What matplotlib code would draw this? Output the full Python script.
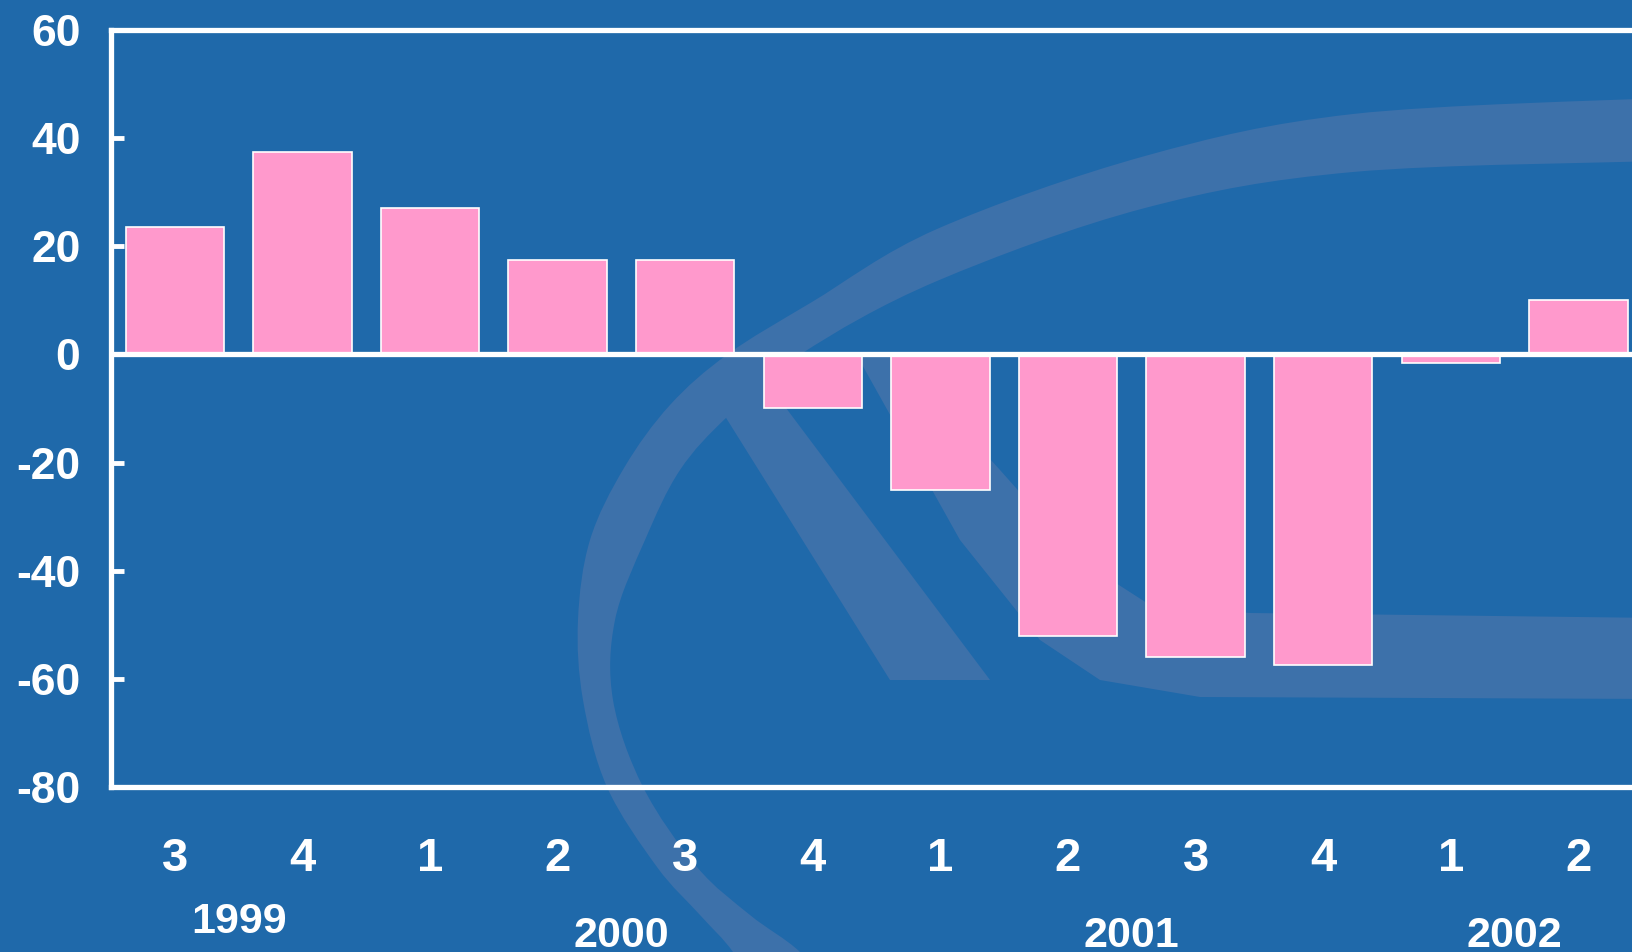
import numpy as np
import matplotlib.pyplot as plt
from matplotlib.patches import Polygon, PathPatch
from matplotlib.path import Path

plt.rcParams['font.family'] = ['Liberation Sans', 'DejaVu Sans']
plt.rcParams['font.weight'] = 'bold'
plt.rcParams['axes.unicode_minus'] = False

# quarterly values, 1999Q3 .. 2002Q2
quarters = ['3', '4', '1', '2', '3', '4', '1', '2', '3', '4', '1', '2']
values = [23.5, 37.5, 27, 17.5, 17.5, -10, -25, -52, -56, -57.5, -1.5, 10]
years = ['1999', '2000', '2001', '2002']
year_pos = [0.5, 3.5, 7.5, 10.5]
year_y = [-0.178, -0.197, -0.197, -0.197]

bg = '#1f69aa'
mark = '#3d71aa'
pink = '#ff99cc'

W, H = 1632, 952
fig = plt.figure(figsize=(W / 100, H / 100), dpi=100, facecolor=bg)

def frac(p):
    # pixel coords (origin top-left) -> figure fraction
    return (p[0] / W, 1 - p[1] / H)

def smooth(pts):
    # bezier segments through the given outline points (watermark only)
    p = [np.array(frac(q)) for q in pts]
    verts, codes = [p[0]], [Path.MOVETO]
    for i in range(len(p) - 1):
        a = p[i - 1] if i > 0 else p[i]
        d = p[i + 2] if i + 2 < len(p) else p[i + 1]
        verts += [p[i] + (p[i + 1] - a) / 6, p[i + 1] - (d - p[i]) / 6, p[i + 1]]
        codes += [Path.CURVE4] * 3
    return verts, codes

# faint logo watermark behind the chart
outer = [(760, 1000), (733, 952), (700, 915), (657, 867), (607, 787), (583, 700),
         (578, 620), (590, 540), (624, 468), (670, 405), (728, 354), (812, 302),
         (937, 229), (1145, 156), (1353, 114), (1660, 98)]
inner = [(1660, 161), (1353, 172), (1145, 208), (937, 281), (801, 354), (728, 416),
         (680, 470), (645, 540), (615, 620), (613, 700), (643, 787), (697, 867),
         (750, 915), (800, 952), (840, 1000)]
v1, c1 = smooth(outer)
v2, c2 = smooth(inner)
c2[0] = Path.LINETO
ring = Path(v1 + v2 + [v1[0]], c1 + c2 + [Path.CLOSEPOLY])
fig.patches.append(PathPatch(ring, transform=fig.transFigure, facecolor=mark,
                             edgecolor='none', zorder=-5))

stroke = [(718, 405), (750, 360), (990, 680), (890, 680)]
swoosh = [(893, 352), (1000, 470), (1080, 560), (1150, 605), (1250, 613),
          (1660, 618), (1660, 699), (1200, 697), (1100, 680), (1040, 640),
          (960, 540), (855, 352)]
for shape in (stroke, swoosh):
    fig.patches.append(Polygon([frac(q) for q in shape], closed=True,
                               transform=fig.transFigure, facecolor=mark,
                               edgecolor='none', zorder=-5))

ax = fig.add_axes([111 / W, 1 - 787 / H, 12 * 127.6 / W, 757 / H])
ax.set_facecolor('none')

x = np.arange(len(values))
ax.bar(x, values, width=0.77, color=pink, edgecolor='white', linewidth=1.2, zorder=2)
ax.axhline(0, color='white', lw=3.8, zorder=3)

ax.set_xlim(-0.5, 11.5)
ax.set_ylim(-80, 60)
ax.set_yticks(np.arange(-80, 61, 20))
ax.tick_params(axis='y', direction='in', length=9, width=3.5, color='white',
               labelcolor='white', labelsize=32, pad=22)
ax.set_xticks(x)
ax.set_xticklabels(quarters)
ax.tick_params(axis='x', length=0, labelcolor='white', labelsize=34, pad=36)

for s in ['left', 'top', 'bottom']:
    ax.spines[s].set_color('white')
    ax.spines[s].set_linewidth(3.8)
ax.spines['right'].set_visible(False)

for lab, xp, yp in zip(years, year_pos, year_y):
    ax.text(xp, yp, lab, transform=ax.get_xaxis_transform(), ha='center',
            va='center', color='white', fontsize=31, fontweight='bold')

fig.savefig('out.png', dpi=100, facecolor=bg)
